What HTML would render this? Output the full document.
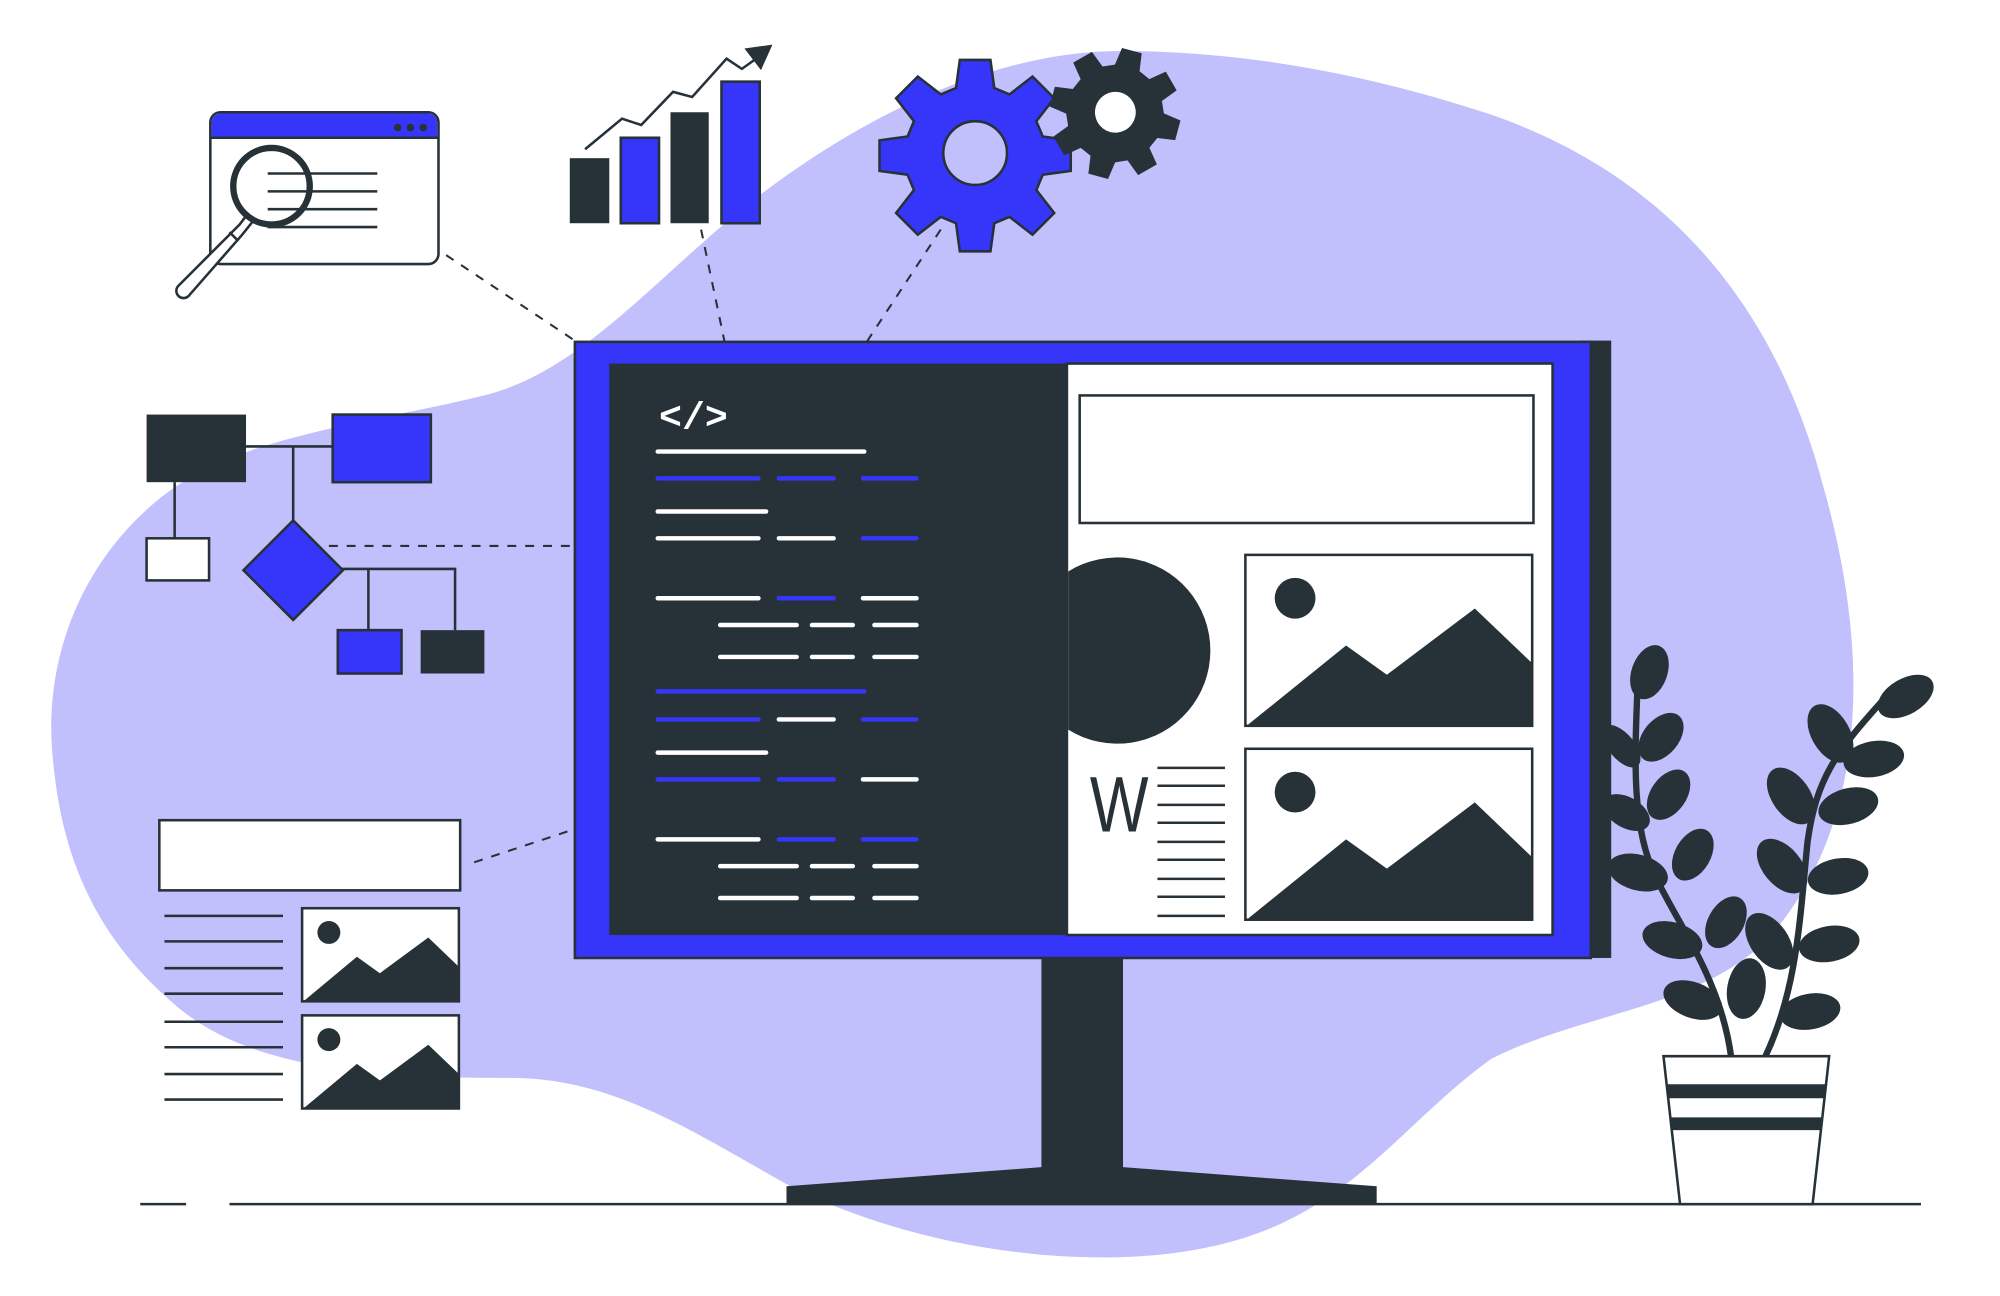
<!DOCTYPE html>
<html><head><meta charset="utf-8"><style>html,body{margin:0;padding:0;background:#fff}svg{display:block}</style></head>
<body>
<svg width="2000" height="1296" viewBox="0 0 1569 1016" preserveAspectRatio="none" xmlns="http://www.w3.org/2000/svg">
<defs><style>.d{fill:#263238}.b{fill:#3636fb}.s{stroke:#263238;stroke-width:2;fill:none}.sw{stroke:#263238;stroke-width:2;fill:#fff}.w{stroke:#fff;stroke-width:3.5;stroke-linecap:round}.bl{stroke:#3636fb;stroke-width:3.5;stroke-linecap:round}.dash{stroke:#263238;stroke-width:1.6;stroke-dasharray:7 7;fill:none}</style></defs>
<path fill="#c1bffc" d="M42,600 C30,500 80,420 140,380 C200,340 300,330 380,310 C460,290 520,210 600,150 C680,90 780,40 880,40 C980,40 1080,60 1170,90 C1300,135 1390,230 1430,380 C1470,520 1460,640 1400,720 C1350,790 1250,790 1170,830 C1100,880 1060,950 960,975 C860,1000 720,980 620,930 C540,885 480,845 400,845 C300,845 200,840 140,790 C80,740 50,680 42,600 Z"/>
<path class="dash" d="M350,200 L478,285"/>
<path class="dash" d="M550,180 L572,285"/>
<path class="dash" d="M738,180 L672,280"/>
<path class="dash" d="M258,428 L470,428"/>
<path class="dash" d="M372,676 L475,642"/>
<rect x="165" y="88" width="179" height="119" rx="8" class="sw"/>
<path class="b" d="M166,96 a7,7 0 0 1 7,-7 h163 a7,7 0 0 1 7,7 v12 h-177z"/>
<line x1="165" y1="108" x2="344" y2="108" stroke="#263238" stroke-width="2"/>
<circle cx="312" cy="100" r="3" class="d"/><circle cx="322" cy="100" r="3" class="d"/><circle cx="332" cy="100" r="3" class="d"/>
<g stroke="#263238" stroke-width="2"><line x1="210" y1="136" x2="296" y2="136"/><line x1="210" y1="150" x2="296" y2="150"/><line x1="210" y1="164" x2="296" y2="164"/><line x1="210" y1="178" x2="296" y2="178"/></g>
<path d="M194,168 L188,176 L140,224 a4,4 0 0 0 8,8 L190,184 L198,174 Z" class="sw"/>
<line x1="180" y1="182" x2="187" y2="189" stroke="#263238" stroke-width="2"/>
<circle cx="213" cy="146" r="30" fill="none" stroke="#263238" stroke-width="5"/>
<rect x="447" y="124" width="31" height="51" class="d"/>
<rect x="487" y="108" width="30" height="67" class="b" stroke="#263238" stroke-width="2"/>
<rect x="526" y="88" width="30" height="87" class="d"/>
<rect x="566" y="64" width="30" height="111" class="b" stroke="#263238" stroke-width="2"/>
<polyline points="459,117 488,93 503,98 528,72 543,76 570,46 582,54 596,44" class="s" stroke-width="3"/>
<path class="d" d="M584,38 L606,35 L597,55 Z"/>
<g transform="translate(765,120)"><path class="b" stroke="#263238" stroke-width="2" d="M-12,-73 h24 l3,22 12,5 18,-14 17,17 -14,18 5,12 22,3 v24 l-22,3 -5,12 14,18 -17,17 -18,-14 -12,5 -3,22 h-24 l-3,-22 -12,-5 -18,14 -17,-17 14,-18 -5,-12 -22,-3 v-24 l22,-3 5,-12 -14,-18 17,-17 18,14 12,-5 z"/><circle r="25" fill="#c1bffc" stroke="#263238" stroke-width="2"/></g>
<g transform="translate(875,88) rotate(15)"><path class="d" d="M-8,-50 h16 l2,14 9,4 11,-9 12,12 -9,11 4,9 14,2 v16 l-14,2 -4,9 9,11 -12,12 -11,-9 -9,4 -2,14 h-16 l-2,-14 -9,-4 -11,9 -12,-12 9,-11 -4,-9 -14,-2 v-16 l14,-2 4,-9 -9,-11 12,-12 11,9 9,-4 z"/><circle r="16" fill="#fff"/></g>
<rect x="115" y="325" width="78" height="53" class="d"/>
<rect x="261" y="325" width="77" height="53" class="b" stroke="#263238" stroke-width="2"/>
<g class="s" stroke-width="1.6"><line x1="193" y1="350" x2="261" y2="350"/><line x1="230" y1="350" x2="230" y2="410"/><line x1="137" y1="378" x2="137" y2="422"/><polyline points="268,446 357,446 357,494"/><line x1="289" y1="446" x2="289" y2="494"/></g>
<rect x="115" y="422" width="49" height="33" class="sw"/>
<polygon points="230,408 269,447 230,486 191,447" class="b" stroke="#263238" stroke-width="2"/>
<rect x="265" y="494" width="50" height="34" class="b" stroke="#263238" stroke-width="2"/>
<rect x="330" y="494" width="50" height="34" class="d"/>
<rect x="125" y="643" width="236" height="55" class="sw"/>
<g stroke="#263238" stroke-width="2"><line x1="129" y1="718" x2="222" y2="718"/><line x1="129" y1="738" x2="222" y2="738"/><line x1="129" y1="759" x2="222" y2="759"/><line x1="129" y1="779" x2="222" y2="779"/><line x1="129" y1="801" x2="222" y2="801"/><line x1="129" y1="821" x2="222" y2="821"/><line x1="129" y1="842" x2="222" y2="842"/><line x1="129" y1="862" x2="222" y2="862"/></g>
<rect x="237" y="712" width="123" height="73" class="sw"/><circle cx="258" cy="731" r="9" class="d"/><path class="d" d="M238,785 L280,750 L298,763 L336,735 L360,758 L360,785Z"/>
<rect x="237" y="796" width="123" height="73" class="sw"/><circle cx="258" cy="815" r="9" class="d"/><path class="d" d="M238,869 L280,834 L298,847 L336,819 L360,842 L360,869Z"/>
<rect x="1240" y="267" width="24" height="484" class="d"/>
<rect x="451" y="268" width="797" height="483" class="b" stroke="#263238" stroke-width="2"/>
<rect x="478" y="285" width="360" height="448" class="d"/>
<rect x="837" y="285" width="381" height="448" class="sw"/>
<rect x="817" y="751" width="64" height="166" class="d"/>
<path class="d" d="M617,930 L817,915 L881,915 L1080,930 L1080,944 L617,944Z"/>
<line x1="110" y1="944" x2="146" y2="944" stroke="#263238" stroke-width="2"/>
<line x1="180" y1="944" x2="1507" y2="944" stroke="#263238" stroke-width="2"/>
<text x="517" y="336" fill="#fff" font-family="Liberation Mono, monospace" font-weight="bold" font-size="30">&lt;/&gt;</text>
<g>
<line class="w" x1="516" y1="354" x2="678" y2="354"/>
<line class="bl" x1="516" y1="375" x2="595" y2="375"/><line class="bl" x1="611" y1="375" x2="654" y2="375"/><line class="bl" x1="677" y1="375" x2="719" y2="375"/>
<line class="w" x1="516" y1="401" x2="601" y2="401"/>
<line class="w" x1="516" y1="422" x2="595" y2="422"/><line class="w" x1="611" y1="422" x2="654" y2="422"/><line class="bl" x1="677" y1="422" x2="719" y2="422"/>
<line class="w" x1="516" y1="469" x2="595" y2="469"/><line class="bl" x1="611" y1="469" x2="654" y2="469"/><line class="w" x1="677" y1="469" x2="719" y2="469"/>
<line class="w" x1="565" y1="490" x2="625" y2="490"/><line class="w" x1="637" y1="490" x2="669" y2="490"/><line class="w" x1="686" y1="490" x2="719" y2="490"/>
<line class="w" x1="565" y1="515" x2="625" y2="515"/><line class="w" x1="637" y1="515" x2="669" y2="515"/><line class="w" x1="686" y1="515" x2="719" y2="515"/>
<line class="bl" x1="516" y1="542" x2="678" y2="542"/>
<line class="bl" x1="516" y1="564" x2="595" y2="564"/><line class="w" x1="611" y1="564" x2="654" y2="564"/><line class="bl" x1="677" y1="564" x2="719" y2="564"/>
<line class="w" x1="516" y1="590" x2="601" y2="590"/>
<line class="bl" x1="516" y1="611" x2="595" y2="611"/><line class="bl" x1="611" y1="611" x2="654" y2="611"/><line class="w" x1="677" y1="611" x2="719" y2="611"/>
<line class="w" x1="516" y1="658" x2="595" y2="658"/><line class="bl" x1="611" y1="658" x2="654" y2="658"/><line class="bl" x1="677" y1="658" x2="719" y2="658"/>
<line class="w" x1="565" y1="679" x2="625" y2="679"/><line class="w" x1="637" y1="679" x2="669" y2="679"/><line class="w" x1="686" y1="679" x2="719" y2="679"/>
<line class="w" x1="565" y1="704" x2="625" y2="704"/><line class="w" x1="637" y1="704" x2="669" y2="704"/><line class="w" x1="686" y1="704" x2="719" y2="704"/>
</g>
<rect x="847" y="310" width="356" height="100" class="sw"/>
<path class="d" d="M838,448 A73,73 0 1 1 838,572 Z"/>
<rect x="977" y="435" width="225" height="134" class="sw"/><circle cx="1016" cy="469" r="16" class="d"/><path class="d" d="M978,569 L1056,506 L1088,529 L1157,477 L1202,520 L1202,569Z"/>
<rect x="977" y="587" width="225" height="134" class="sw"/><circle cx="1016" cy="621" r="16" class="d"/><path class="d" d="M978,721 L1056,658 L1088,681 L1157,629 L1202,672 L1202,721Z"/>
<text x="855" y="652" fill="#263238" font-family="Liberation Sans, sans-serif" font-size="62" textLength="46" lengthAdjust="spacingAndGlyphs">W</text>
<g stroke="#263238" stroke-width="2"><line x1="908" y1="602" x2="961" y2="602"/><line x1="908" y1="616" x2="961" y2="616"/><line x1="908" y1="631" x2="961" y2="631"/><line x1="908" y1="645" x2="961" y2="645"/><line x1="908" y1="660" x2="961" y2="660"/><line x1="908" y1="674" x2="961" y2="674"/><line x1="908" y1="689" x2="961" y2="689"/><line x1="908" y1="703" x2="961" y2="703"/><line x1="908" y1="718" x2="961" y2="718"/></g>
<path d="M1358,828 C1350,770 1320,730 1300,690 C1280,650 1282,600 1285,530" stroke="#263238" stroke-width="5" fill="none"/>
<path d="M1385,828 C1410,775 1412,720 1418,660 C1425,610 1440,590 1478,548" stroke="#263238" stroke-width="5" fill="none"/>
<g class="d">
<ellipse cx="1294" cy="527" rx="14" ry="22" transform="rotate(20 1294 527)"/>
<ellipse cx="1303" cy="578" rx="14" ry="22" transform="rotate(40 1303 578)"/>
<ellipse cx="1309" cy="623" rx="14" ry="22" transform="rotate(35 1309 623)"/>
<ellipse cx="1328" cy="670" rx="14" ry="22" transform="rotate(30 1328 670)"/>
<ellipse cx="1354" cy="723" rx="14" ry="22" transform="rotate(30 1354 723)"/>
<ellipse cx="1370" cy="775" rx="15" ry="24" transform="rotate(10 1370 775)"/>
<ellipse cx="1272" cy="585" rx="10" ry="20" transform="rotate(-40 1272 585)"/>
<ellipse cx="1276" cy="637" rx="12" ry="20" transform="rotate(-60 1276 637)"/>
<ellipse cx="1285" cy="684" rx="14" ry="24" transform="rotate(-75 1285 684)"/>
<ellipse cx="1312" cy="737" rx="14" ry="24" transform="rotate(-75 1312 737)"/>
<ellipse cx="1328" cy="784" rx="14" ry="24" transform="rotate(-70 1328 784)"/>
<ellipse cx="1495" cy="546" rx="14" ry="24" transform="rotate(60 1495 546)"/>
<ellipse cx="1470" cy="595" rx="14" ry="24" transform="rotate(80 1470 595)"/>
<ellipse cx="1436" cy="575" rx="15" ry="25" transform="rotate(-30 1436 575)"/>
<ellipse cx="1450" cy="632" rx="14" ry="24" transform="rotate(75 1450 632)"/>
<ellipse cx="1405" cy="624" rx="15" ry="25" transform="rotate(-35 1405 624)"/>
<ellipse cx="1442" cy="687" rx="14" ry="24" transform="rotate(80 1442 687)"/>
<ellipse cx="1398" cy="679" rx="15" ry="25" transform="rotate(-40 1398 679)"/>
<ellipse cx="1435" cy="740" rx="14" ry="24" transform="rotate(80 1435 740)"/>
<ellipse cx="1388" cy="738" rx="15" ry="25" transform="rotate(-35 1388 738)"/>
<ellipse cx="1420" cy="793" rx="14" ry="24" transform="rotate(80 1420 793)"/>
</g>
<polygon points="1305,828 1435,828 1422,944 1318,944" class="sw"/>
<polygon points="1308,850 1432,850 1431,861 1309,861" class="d"/>
<polygon points="1310,876 1430,876 1428,886 1311,886" class="d"/>
</svg>
</body></html>
